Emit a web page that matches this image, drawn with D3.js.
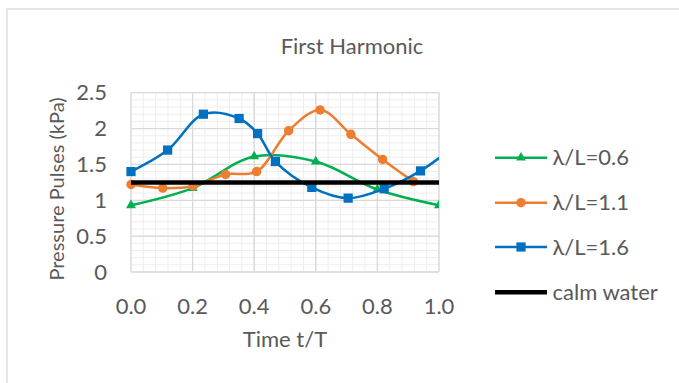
<!DOCTYPE html>
<html lang="en">
<head>
    <meta charset="UTF-8">
    <title>First Harmonic</title>
    <script src="https://cdn.jsdelivr.net/npm/d3@7"></script>
    <style>
        body { margin: 0; background: #fff; }
        text { font-family: Lato, "Open Sans", sans-serif; fill: #595959; }
    </style>
</head>
<body>
<svg width="679" height="383"></svg>
<script>
    // data
    const greenT = [0, 0.2, 0.4, 0.6, 0.8, 1.0]
    const greenP = [0.93, 1.17, 1.61, 1.54, 1.15, 0.93]
    const orangeT = [0, 0.103, 0.202, 0.307, 0.408, 0.512, 0.614, 0.714, 0.817, 0.917]
    const orangeP = [1.22, 1.17, 1.2, 1.36, 1.4, 1.97, 2.26, 1.92, 1.57, 1.26]
    const blueT = [0, 0.119, 0.235, 0.351, 0.411, 0.469, 0.587, 0.705, 0.822, 0.94, 1.058]
    const blueP = [1.4, 1.7, 2.2, 2.14, 1.93, 1.54, 1.18, 1.03, 1.16, 1.41, 1.78]
    const calmT = [0, 1.0]
    const calmP = [1.247, 1.247]
    const xTicks = [0, 0.2, 0.4, 0.6, 0.8, 1.0]
    const yTicks = [0, 0.5, 1, 1.5, 2, 2.5]

    const series = [
        {name: "λ/L=0.6", t: greenT, p: greenP, color: "#00b050", marker: "triangle"},
        {name: "λ/L=1.1", t: orangeT, p: orangeP, color: "#ed7d31", marker: "circle"},
        {name: "λ/L=1.6", t: blueT, p: blueP, color: "#0070c0", marker: "square"},
        {name: "calm water", t: calmT, p: calmP, color: "#000000", marker: null}
    ]

    const svg = d3.select("svg")
    const pLeft = 131, pRight = 439, pTop = 92.7, pBottom = 272
    const fs = 22

    svg.append("rect")
        .attr("x", 7).attr("y", 9).attr("width", 700).attr("height", 400)
        .attr("fill", "#fff").attr("stroke", "#d9d9d9").attr("stroke-width", 1.3)

    const x = d3.scaleLinear().domain([0, 1]).range([pLeft, pRight])
    const y = d3.scaleLinear().domain([0, 2.5]).range([pBottom, pTop])

    // minor grid
    const grid = svg.append("g")
    grid.selectAll(".vminor")
        .data(d3.range(0, 1.0001, 0.04))
        .enter().append("line")
        .attr("x1", d => x(d)).attr("x2", d => x(d))
        .attr("y1", pTop).attr("y2", pBottom)
        .attr("stroke", "#eeeeee").attr("stroke-width", 1)
    grid.selectAll(".hminor")
        .data(d3.range(0, 2.5001, 0.1))
        .enter().append("line")
        .attr("y1", d => y(d)).attr("y2", d => y(d))
        .attr("x1", pLeft).attr("x2", pRight)
        .attr("stroke", "#eeeeee").attr("stroke-width", 1)
    // major grid
    grid.selectAll(".vmajor")
        .data(xTicks)
        .enter().append("line")
        .attr("x1", d => x(d)).attr("x2", d => x(d))
        .attr("y1", pTop).attr("y2", pBottom)
        .attr("stroke", "#d9d9d9").attr("stroke-width", 1.3)
    grid.selectAll(".hmajor")
        .data(yTicks)
        .enter().append("line")
        .attr("y1", d => y(d)).attr("y2", d => y(d))
        .attr("x1", pLeft).attr("x2", pRight)
        .attr("stroke", "#d9d9d9").attr("stroke-width", 1.3)

    // tick labels
    svg.append("g").selectAll("text")
        .data(yTicks)
        .enter().append("text")
        .attr("x", 107).attr("y", d => y(d))
        .attr("dy", "0.35em")
        .attr("text-anchor", "end")
        .attr("font-size", fs)
        .text(d => d)
    svg.append("g").selectAll("text")
        .data(xTicks)
        .enter().append("text")
        .attr("x", d => x(d)).attr("y", 306)
        .attr("dy", "0.35em")
        .attr("text-anchor", "middle")
        .attr("font-size", fs)
        .text(d => d3.format(".1f")(d))

    svg.append("text")
        .attr("x", (pLeft + pRight) / 2).attr("y", 339).attr("dy", "0.35em")
        .attr("text-anchor", "middle").attr("font-size", fs)
        .text("Time t/T")
    svg.append("text")
        .attr("transform", "translate(57,189) rotate(-90)")
        .attr("dy", "0.35em")
        .attr("text-anchor", "middle").attr("font-size", 20)
        .text("Pressure Pulses (kPa)")
    svg.append("text")
        .attr("x", 352).attr("y", 46).attr("dy", "0.35em")
        .attr("text-anchor", "middle").attr("font-size", fs)
        .text("First Harmonic")

    svg.append("clipPath").attr("id", "plotClip")
        .append("rect").attr("x", pLeft - 10).attr("y", 0)
        .attr("width", pRight - pLeft + 10).attr("height", 383)

    function markerPath(type, size) {
        if (type === "triangle") return d3.symbol(d3.symbolTriangle, size)()
        if (type === "circle") return d3.symbol(d3.symbolCircle, size)()
        return d3.symbol(d3.symbolSquare, size)()
    }
    const markerSize = {triangle: 42, circle: 70, square: 85}

    const plot = svg.append("g").attr("clip-path", "url(#plotClip)")
    series.forEach(s => {
        const pts = s.t.map((t, i) => [t, s.p[i]])
        const line = d3.line()
            .x(d => x(d[0])).y(d => y(d[1]))
            .curve(s.marker ? d3.curveCatmullRom.alpha(0.5) : d3.curveLinear)
        plot.append("path")
            .datum(pts)
            .attr("d", line)
            .attr("fill", "none")
            .attr("stroke", s.color)
            .attr("stroke-width", s.marker ? 2.5 : 4.5)
        if (s.marker) {
            plot.selectAll(null)
                .data(pts)
                .enter().append("path")
                .attr("transform", d => `translate(${x(d[0])},${y(d[1])})`)
                .attr("d", markerPath(s.marker, markerSize[s.marker]))
                .attr("fill", s.color)
        }
    })

    // legend
    const legendY = [157.7, 202.7, 247, 292.3]
    const legend = svg.append("g")
    series.forEach((s, i) => {
        const g = legend.append("g").attr("transform", `translate(495,${legendY[i]})`)
        g.append("line").attr("x1", 0).attr("x2", 52).attr("y1", 0).attr("y2", 0)
            .attr("stroke", s.color).attr("stroke-width", s.marker ? 2.5 : 4.5)
        if (s.marker) {
            g.append("path").attr("transform", "translate(26,0)")
                .attr("d", markerPath(s.marker, markerSize[s.marker]))
                .attr("fill", s.color)
        }
        g.append("text").attr("x", 57.5).attr("y", 0).attr("dy", "0.35em")
            .attr("font-size", fs)
            .text(s.name)
    })
</script>
</body>
</html>
